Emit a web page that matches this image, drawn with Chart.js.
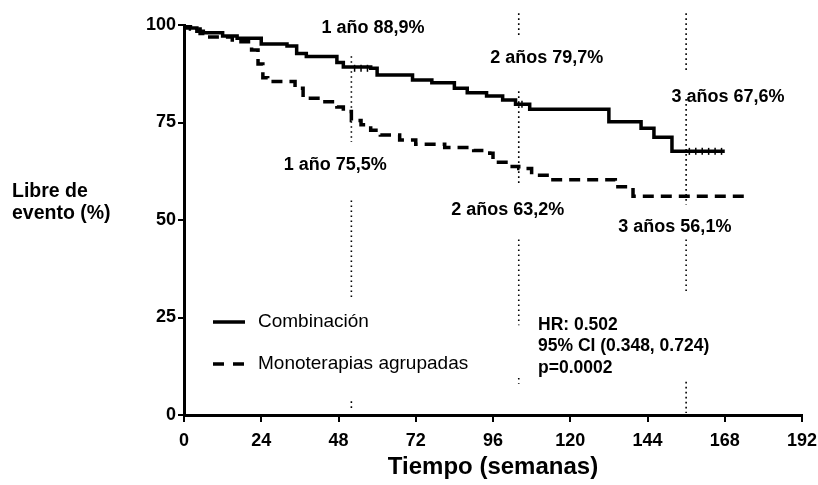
<!DOCTYPE html>
<html>
<head>
<meta charset="utf-8">
<script src="https://cdn.jsdelivr.net/npm/chart.js@4.4.1/dist/chart.umd.min.js"></script>
<style>
  body { margin: 0; background: #fff; }
  canvas { display: block; }
</style>
</head>
<body>
<canvas id="km" width="818" height="485"></canvas>
<script>
// curvas de Kaplan-Meier (semanas, % libre de evento)
let combWeeks = [0, 1, 4, 6, 12, 16.5, 24, 32, 35, 38, 47.5, 49.5, 58, 60, 71, 77, 84, 88, 94, 99, 103, 107.4, 132, 142, 146, 151.6, 168];
let combVals  = [100, 99.2, 98.4, 98, 97.2, 96.6, 95.1, 94.6, 92.7, 91.9, 90.4, 89.2, 88.9, 87.2, 85.9, 85.2, 83.8, 82.6, 81.8, 80.8, 79.7, 78.4, 75.2, 73.5, 71.2, 67.6, 67.6];

let monoWeeks = [0, 2, 5, 8, 15, 21, 23, 24.5, 26, 34.5, 37, 43, 47.5, 49.5, 52, 55, 58, 61, 67, 72, 81, 90, 95, 96, 101, 104, 108, 114, 132.5, 134, 139.5, 175];
let monoVals  = [100, 99, 97.8, 96.9, 95.7, 93.6, 90, 86.5, 85.5, 83.8, 81.2, 80.3, 79, 77.8, 75.5, 74.4, 73, 71.8, 70.5, 69.4, 68.6, 67.8, 67.1, 64.8, 63.7, 63.2, 61.5, 60.3, 60.3, 58.5, 56.1, 56.1];

// marcas de censura sobre la curva de combinacion
let censorWeeks = [53, 55, 57, 105, 157, 159, 161, 163, 165, 167];
let censorVals  = [88.9, 88.9, 88.9, 79.7, 67.6, 67.6, 67.6, 67.6, 67.6, 67.6];

let xTicks = [0, 24, 48, 72, 96, 120, 144, 168, 192];
let yTicks = [0, 25, 50, 75, 100];

// lineas verticales punteadas a 1, 2 y 3 años, con sus tramos (desde, hasta)
let yearWeeks = [52, 104, 156];
let yearSegments = [
    [[92, 70], [55, 30], [3.5, 1]],
    [[103, 97], [83, 59.5], [45, 23], [9.5, 8]],
    [[103, 88], [81, 54], [45, 31], [8.5, 0.5]]
];

let notes = [
    { text: '1 año 88,9%',  x: 58.7,  y: 99.2 },
    { text: '2 años 79,7%', x: 112.7, y: 91.5 },
    { text: '3 años 67,6%', x: 169,   y: 81.5 },
    { text: '1 año 75,5%',  x: 47,    y: 64.1 },
    { text: '2 años 63,2%', x: 100.6, y: 52.6 },
    { text: '3 años 56,1%', x: 152.5, y: 48.2 }
];
let statsLines = ['HR: 0.502', '95% CI (0.348, 0.724)', 'p=0.0002'];
let legendLabels = ['Combinación', 'Monoterapias agrupadas'];

const FONT = '"Liberation Sans", Arial, sans-serif';

function toPoints(xs, ys) {
    return xs.map((v, i) => ({ x: v, y: ys[i] }));
}

let yearPoints = [];
yearWeeks.forEach((w, i) => {
    yearSegments[i].forEach(seg => {
        yearPoints.push({ x: w, y: seg[0] });
        yearPoints.push({ x: w, y: seg[1] });
        yearPoints.push({ x: w, y: null });
    });
});

// textos, leyenda y titulo del eje Y
const textPlugin = {
    id: 'textos',
    afterDraw(chart) {
        const ctx = chart.ctx;
        const x = chart.scales.x;
        const y = chart.scales.y;
        ctx.save();
        ctx.fillStyle = '#000';
        ctx.strokeStyle = '#000';

        ctx.textAlign = 'center';
        ctx.textBaseline = 'middle';
        ctx.font = 'bold 18px ' + FONT;
        notes.forEach(n => {
            ctx.fillText(n.text, x.getPixelForValue(n.x), y.getPixelForValue(n.y));
        });

        // titulo eje Y
        ctx.textAlign = 'left';
        ctx.font = 'bold 19.5px ' + FONT;
        ctx.fillText('Libre de', 12, 192);
        ctx.fillText('evento (%)', 12, 214);

        // leyenda
        ctx.lineWidth = 3.5;
        ctx.beginPath();
        ctx.moveTo(213, 322);
        ctx.lineTo(245, 322);
        ctx.stroke();
        ctx.setLineDash([11, 9]);
        ctx.beginPath();
        ctx.moveTo(213, 364);
        ctx.lineTo(245, 364);
        ctx.stroke();
        ctx.setLineDash([]);
        ctx.font = '19px ' + FONT;
        ctx.fillText(legendLabels[0], 258, 322);
        ctx.fillText(legendLabels[1], 258, 364);

        // estadisticos
        ctx.font = 'bold 17.5px ' + FONT;
        statsLines.forEach((t, i) => ctx.fillText(t, 538, 325 + i * 21.5));
        ctx.restore();
    }
};

let ctx = document.getElementById('km').getContext('2d');

new Chart(ctx, {
    type: 'line',
    data: {
        datasets: [{
            label: legendLabels[0],
            data: toPoints(combWeeks, combVals),
            borderColor: '#000',
            borderWidth: 3.5,
            stepped: true,
            pointRadius: 0,
            fill: false
        }, {
            label: legendLabels[1],
            data: toPoints(monoWeeks, monoVals),
            borderColor: '#000',
            borderWidth: 3.5,
            borderDash: [11, 7],
            stepped: true,
            pointRadius: 0,
            fill: false
        }, {
            label: 'censura',
            data: toPoints(censorWeeks, censorVals),
            showLine: false,
            pointStyle: 'line',
            rotation: 90,
            pointRadius: 3.5,
            borderColor: '#000',
            borderWidth: 1.5
        }, {
            label: 'años',
            data: yearPoints,
            borderColor: '#000',
            borderWidth: 1.6,
            borderDash: [1.6, 3.4],
            pointRadius: 0,
            spanGaps: false,
            clip: false
        }]
    },
    options: {
        responsive: false,
        animation: false,
        layout: { padding: { left: 0, top: 25, right: 16, bottom: 0 } },
        plugins: {
            legend: { display: false },
            tooltip: { enabled: false }
        },
        scales: {
            x: {
                type: 'linear',
                min: 0,
                max: 192,
                afterBuildTicks: s => { s.ticks = xTicks.map(v => ({ value: v })); },
                afterFit: s => { s.height = 70; s.paddingLeft = 0; s.paddingRight = 0; },
                border: { display: true, color: '#000', width: 3 },
                grid: { drawOnChartArea: false, color: '#000', lineWidth: 2, tickLength: 7 },
                ticks: { color: '#000', padding: 8, maxRotation: 0, font: { family: FONT, size: 18, weight: 'bold' } },
                title: {
                    display: true,
                    text: 'Tiempo (semanas)',
                    color: '#000',
                    font: { family: FONT, size: 24, weight: 'bold' },
                    padding: { top: 0, bottom: 3 }
                }
            },
            y: {
                min: 0,
                max: 100,
                afterBuildTicks: s => { s.ticks = yTicks.map(v => ({ value: v })); },
                afterFit: s => { s.width = 184; s.paddingTop = 0; s.paddingBottom = 0; },
                border: { display: true, color: '#000', width: 3 },
                grid: { drawOnChartArea: false, color: '#000', lineWidth: 2, tickLength: 6 },
                ticks: { color: '#000', padding: 2, font: { family: FONT, size: 18, weight: 'bold' } }
            }
        }
    },
    plugins: [textPlugin]
});
</script>
</body>
</html>
